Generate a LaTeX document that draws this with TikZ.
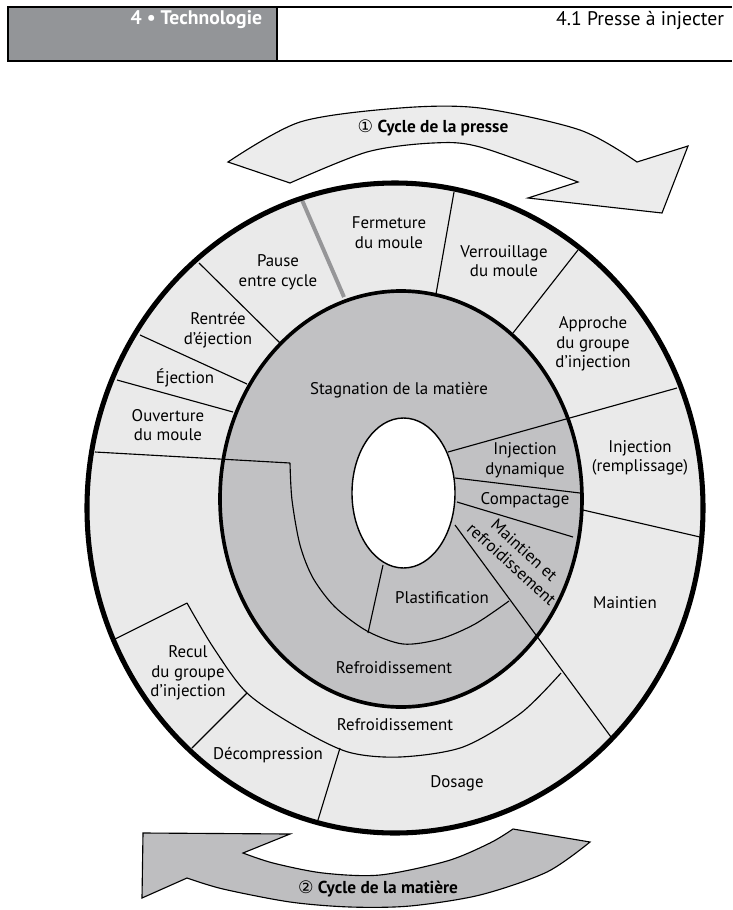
\documentclass[tikz,border=0pt]{standalone}
\usepackage{fontspec}
\setmainfont{PT Sans}
\newfontfamily\circfont{DejaVu Sans}
\definecolor{ringgray}{RGB}{234,234,234}
\definecolor{coregray}{RGB}{193,193,195}
\definecolor{headgray}{RGB}{147,149,152}
\definecolor{arrowlight}{RGB}{236,236,236}
\definecolor{arrowdark}{RGB}{190,190,192}
\definecolor{pausegray}{RGB}{150,150,152}
\begin{document}
\begin{tikzpicture}[x=0.025cm,y=-0.025cm,
  lbl/.style={align=center,font=\fontsize{12}{14}\selectfont,inner sep=0pt},
  cyc/.style={line width=0.8pt,line join=miter},
  sep/.style={line width=0.8pt}]
\useasboundingbox (0,0) rectangle (732,910);
% header
\draw[line width=0.8pt,fill=headgray] (8,7) rectangle (277,61);
\draw[line width=0.8pt] (277,7) -- (732,7) (277,61) -- (732,61);
\node[anchor=east,text=white,font=\bfseries\fontsize{14}{16}\selectfont] (chap) at (267,20) {4 • Technologie};
\node[anchor=east,font=\fontsize{14}{16}\selectfont] (sect) at (729,20) {4.1 Presse à injecter};
% arrows
\filldraw[cyc,fill=arrowlight] plot[smooth] coordinates {(228,162) (300,122) (400,108) (480,108) (580,130) (637,162)}
  -- (688,146) -- (662,213) -- (528,198) -- (578,182)
  -- plot[smooth] coordinates {(578,182) (480,147) (433,143) (367,152) (290,183)} -- cycle;
\filldraw[cyc,fill=arrowdark] (143,833) -- (290,834) -- (243,853)
  -- plot[smooth] coordinates {(243,853) (273,863) (323,873) (380,875) (447,861) (490,843) (513,829)}
  -- (590,842)
  -- plot[smooth] coordinates {(590,842) (547,872) (480,895) (410,906) (350,907) (290,902) (223,889) (187,878)}
  -- (142,898) -- cycle;
\node[font=\bfseries\fontsize{12.3}{14}\selectfont] (presse) at (433,128) {{\circfont\mdseries ①} Cycle de la presse};
\node[font=\bfseries\fontsize{12.3}{14}\selectfont] (matiere) at (378,889) {{\circfont\mdseries ②} Cycle de la matière};
% disc
\fill[ringgray] (395,508) ellipse[x radius=308,y radius=325];
\fill[coregray] (401,499) ellipse[x radius=181,y radius=208];
\draw[sep] (199,263) -- (280,343) (140,335) -- (247,384) (117,380) -- (233,412)
  (95,452) -- (290,463) (454,192) -- (436,294) (578,250) -- (513,333)
  (677,388) -- (448,452) (700,537) -- (583,510) (455,478) -- (580,493)
  (457,502) -- (573,537) (455,525) -- (611,737) (383,565) -- (368,633)
  (115,639) -- (187,603) (192,748) -- (247,693) (340,748) -- (318,820);
\draw[sep] plot[smooth] coordinates {(290,463) (292,500) (300,545) (313,578) (335,607) (367,631) (403,644) (440,639) (475,624) (509,601)};
\draw[sep] plot[smooth] coordinates {(187,603) (213,647) (247,693) (297,727) (348,752) (400,757) (463,747) (521,713) (561,673)};
\draw[pausegray,line width=2.8pt] (302,200) -- (344,297);
\filldraw[fill=white,line width=1pt] (403.5,493) ellipse[x radius=51.5,y radius=75];
\draw[line width=2.6pt] (401,499) ellipse[x radius=181,y radius=208];
\draw[line width=3.6pt] (395,508) ellipse[x radius=308,y radius=325];
% labels
\node[lbl] (pause) at (278,272) {Pause\\entre cycle};
\node[lbl] (fermeture) at (389,233) {Fermeture\\du moule};
\node[lbl] (verrou) at (504,261) {Verrouillage\\du moule};
\node[lbl] (approche) at (593,344) {Approche\\du groupe\\d’injection};
\node[lbl] (injection) at (640,458) {Injection\\(remplissage)};
\node[lbl] (maintien) at (625,603) {Maintien};
\node[lbl] (rentree) at (218,330) {Rentrée\\d’éjection};
\node[lbl] (ejection) at (185,378) {Éjection};
\node[lbl] (ouverture) at (168,425) {Ouverture\\du moule};
\node[lbl] (recul) at (188,673) {Recul\\du groupe\\d’injection};
\node[lbl] (decomp) at (268,755) {Décompression};
\node[lbl] (dosage) at (457,783) {Dosage};
\node[lbl] (refroidext) at (395,725) {Refroidissement};
\node[lbl] (stagnation) at (399,390) {Stagnation de la matière};
\node[lbl] (injdyn) at (525,460) {Injection\\dynamique};
\node[lbl] (compact) at (525,500) {Compactage};
\node[lbl,rotate=-42,font=\fontsize{12}{13.5}\selectfont] (maintref) at (518,557) {Maintien et\\refroidissement};
\node[lbl] (plast) at (442,598) {Plastification};
\node[lbl] (refroidint) at (394,668) {Refroidissement};
\end{tikzpicture}
\end{document}
